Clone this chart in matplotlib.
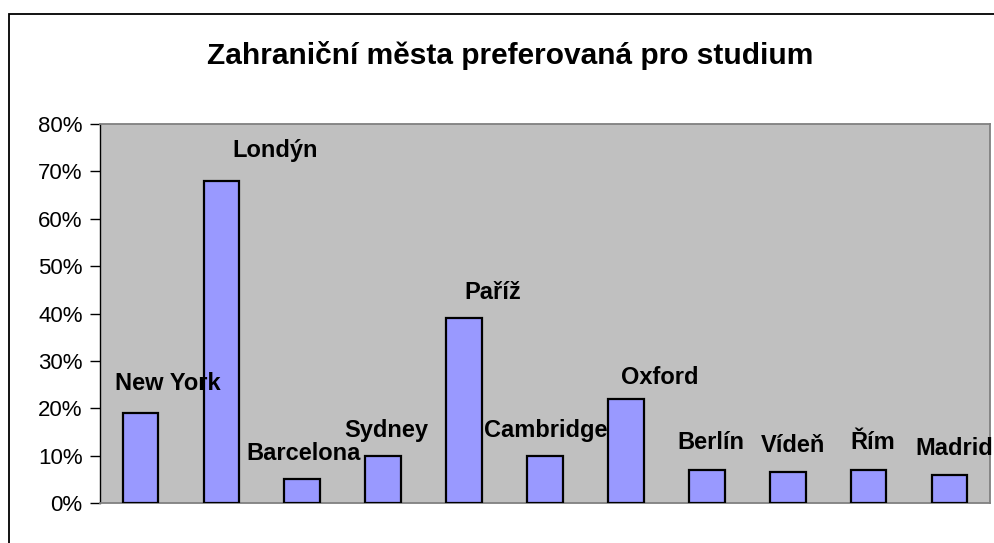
import matplotlib
matplotlib.use("Agg")
import matplotlib.pyplot as plt
from matplotlib.patches import Rectangle
from matplotlib.ticker import FuncFormatter, MultipleLocator

cities = ["New York", "Londýn", "Barcelona", "Sydney", "Paříž", "Cambridge",
          "Oxford", "Berlín", "Vídeň", "Řím", "Madrid"]
values = [19, 68, 5, 10, 39, 10, 22, 7, 6.5, 7, 6]
# label placement (offset from category centre, height in %)
label_dx = [0.34, 0.67, 0.02, 0.04, 0.36, 0.01, 0.42, 0.05, 0.06, 0.05, 0.06]
label_y = [25.3, 74.5, 10.5, 15.4, 44.5, 15.4, 26.4, 12.7, 12.2, 12.7, 11.6]
title = "Zahraniční města preferovaná pro studium"

plt.rcParams['font.family'] = ['Liberation Sans', 'DejaVu Sans']

W, H = 994, 543
fig = plt.figure(figsize=(W / 100, H / 100), dpi=100)
fig.patch.set_facecolor("white")

# outer chart border
fig.patches.append(Rectangle((9 / W, -0.2), 2.0, 1 - 14 / H + 0.2,
                             transform=fig.transFigure, fill=False,
                             edgecolor="black", linewidth=1.3))

left, right, top, bottom = 100, 990, 124, 503
ax = fig.add_axes([left / W, 1 - bottom / H, (right - left) / W, (bottom - top) / H])
ax.set_facecolor("#C0C0C0")

x = list(range(len(cities)))
ax.bar(x, values, width=0.44, color="#9999FF", edgecolor="black", linewidth=1.6, zorder=3)

for i, name in enumerate(cities):
    ax.text(i + label_dx[i], label_y[i], name, ha="center", va="center",
            fontsize=17, fontweight="bold", color="black", zorder=4)

ax.set_xlim(-0.5, len(cities) - 0.5)
ax.set_ylim(0, 80)
ax.yaxis.set_major_locator(MultipleLocator(10))
ax.yaxis.set_major_formatter(FuncFormatter(lambda v, p: f"{v:.0f}%"))
ax.set_xticks([])
ax.tick_params(axis="y", direction="out", length=7, width=1, color="black",
               labelsize=16, pad=5.5)

for s in ["top", "right"]:
    ax.spines[s].set_color("#808080")
    ax.spines[s].set_linewidth(1.3)
ax.spines["bottom"].set_color("#808080")
ax.spines["bottom"].set_linewidth(1.3)
ax.spines["left"].set_color("black")
ax.spines["left"].set_linewidth(1)

fig.text(510 / W, 1 - 55 / H, title, ha="center", va="center",
         fontsize=21.5, fontweight="bold", color="black")

fig.savefig("out.png", dpi=100)
